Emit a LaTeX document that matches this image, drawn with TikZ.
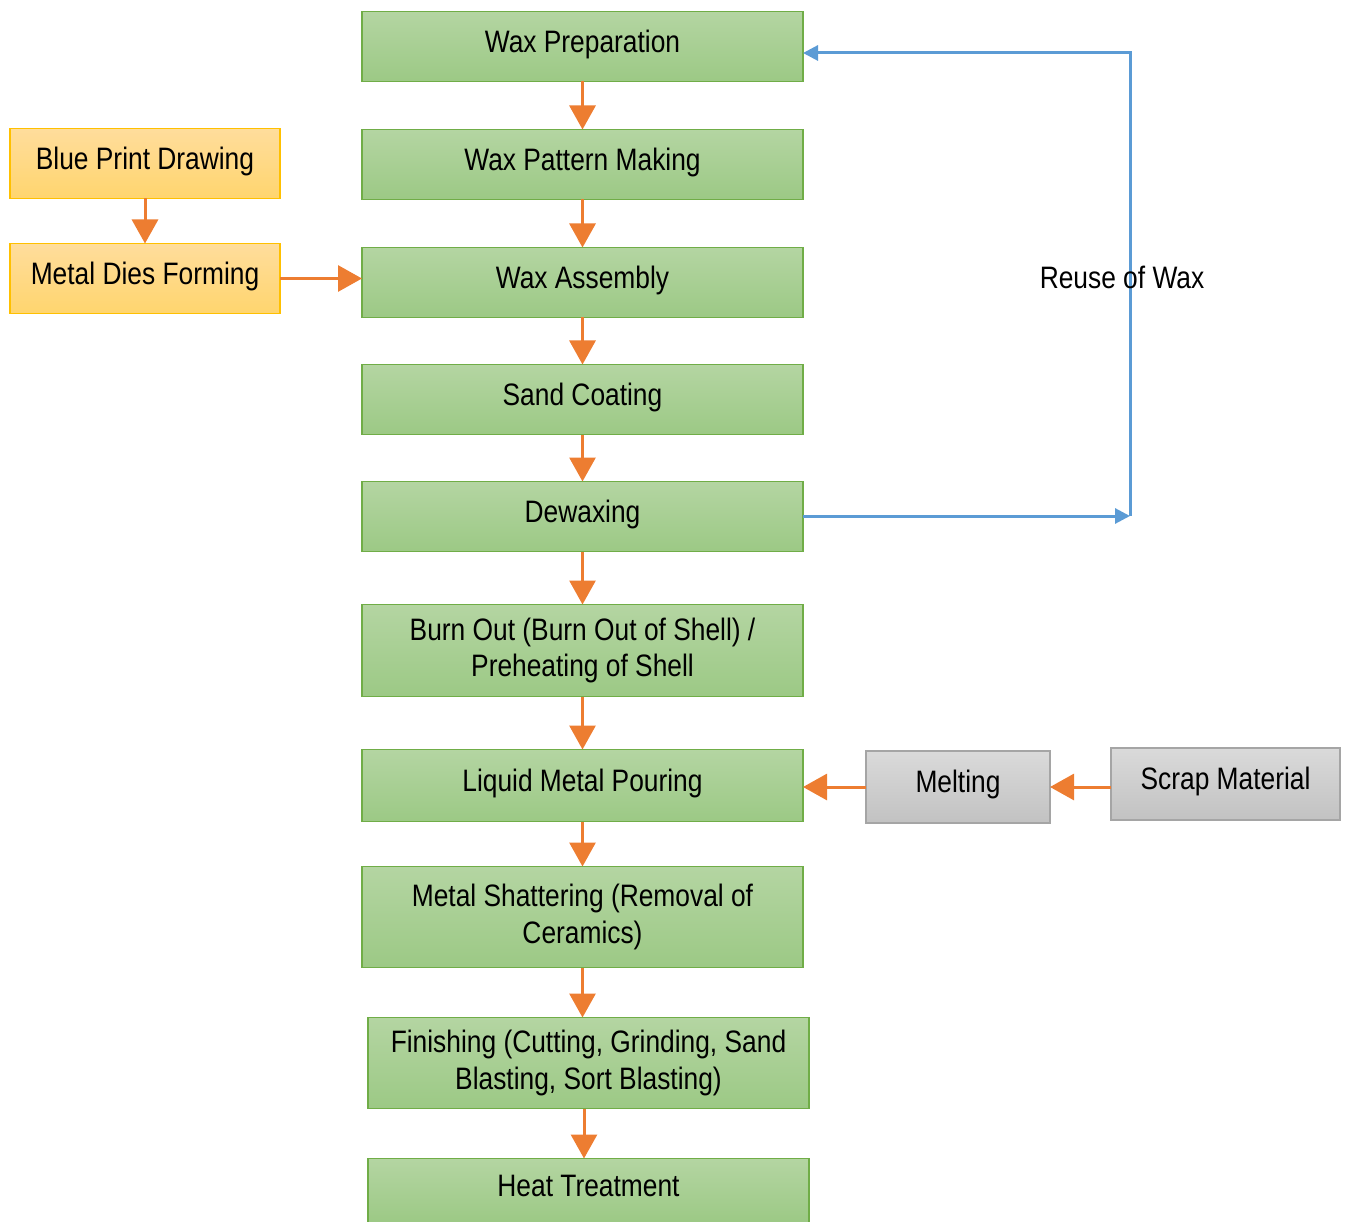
\documentclass[tikz,border=0pt]{standalone}
\usepackage{fontspec}
\setmainfont[FakeStretch=0.85]{Liberation Sans}
\usepackage{tikz}
\usetikzlibrary{arrows.meta, positioning}

\definecolor{stepline}{HTML}{70AD47}
\definecolor{steptop}{HTML}{B4D5A2}
\definecolor{stepbot}{HTML}{9CC985}
\definecolor{dieline}{HTML}{FFC000}
\definecolor{dietop}{HTML}{FFDD9C}
\definecolor{diebot}{HTML}{FFD56E}
\definecolor{scrapline}{HTML}{A5A5A5}
\definecolor{scraptop}{HTML}{DADADA}
\definecolor{scrapbot}{HTML}{C2C2C2}
\definecolor{flow}{HTML}{ED7D31}
\definecolor{reuse}{HTML}{5B9BD5}

\begin{document}
\begin{tikzpicture}[
  x=1pt, y=-1pt,
  font=\fontsize{31}{36.5}\selectfont,
  box/.style={
    rectangle, line width=1.4pt, inner sep=3pt, outer sep=0pt,
    minimum width=441pt, minimum height=70pt, text height=23pt, text depth=11.8pt
  },
  twoline/.style={align=center, text height=, text depth=},
  stepbox/.style={box, draw=stepline, top color=steptop, bottom color=stepbot},
  diebox/.style={box, draw=dieline, top color=dietop, bottom color=diebot,
    minimum width=270pt},
  scrapbox/.style={box, draw=scrapline, top color=scraptop, bottom color=scrapbot,
    minimum height=72pt},
  flowarrow/.style={draw=flow, line width=3pt, -{Triangle[width=26pt, length=24pt]}},
  reusearrow/.style={draw=reuse, line width=3pt, -{Triangle[width=15pt, length=15pt]}}
]
  \useasboundingbox (0,0) rectangle (1346,1222);

  % main column
  \node[stepbox] (wprep) at (582.5,46.5) {Wax Preparation};
  \node[stepbox, below=48pt of wprep] (wpat) {Wax Pattern Making};
  \node[stepbox, below=48pt of wpat] (wass) {Wax Assembly};
  \node[stepbox, below=47pt of wass] (sand) {Sand Coating};
  \node[stepbox, below=47pt of sand] (dewax) {Dewaxing};
  \node[stepbox, twoline, below=53pt of dewax, minimum height=92pt] (burn)
    {Burn Out (Burn Out of Shell) /\\Preheating of Shell};
  \node[stepbox, below=53pt of burn, minimum height=72pt] (pour) {Liquid Metal Pouring};
  \node[stepbox, twoline, below=45pt of pour, minimum height=101pt] (shat)
    {Metal Shattering (Removal of\\Ceramics)};
  \node[stepbox, twoline, below=50pt of shat, xshift=6pt, minimum height=91pt] (fin)
    {Finishing (Cutting, Grinding, Sand\\Blasting, Sort Blasting)};
  \node[stepbox, below=50pt of fin, minimum height=64pt] (heat) {Heat Treatment};

  % dies
  \node[diebox] (blue) at (145,163.5) {Blue Print Drawing};
  \node[diebox, below=45pt of blue] (dies) {Metal Dies Forming};

  % scrap
  \node[scrapbox, minimum width=184pt] (melt) at (958,787) {Melting};
  \node[scrapbox, minimum width=229pt] (scrap) at (1225.5,784) {Scrap Material};

  \draw[flowarrow] (wprep) -- (wpat);
  \draw[flowarrow] (wpat) -- (wass);
  \draw[flowarrow] (wass) -- (sand);
  \draw[flowarrow] (sand) -- (dewax);
  \draw[flowarrow] (dewax) -- (burn);
  \draw[flowarrow] (burn) -- (pour);
  \draw[flowarrow] (pour) -- (shat);
  \draw[flowarrow] (shat.south) -- (shat.south |- fin.north);
  \draw[flowarrow] (fin.south -| 584,0) -- (heat.north -| 584,0);
  \draw[flowarrow] (blue) -- (dies);
  \draw[flowarrow] (dies.east) -- (dies.east -| wass.west);
  \draw[flowarrow] (melt.west) -- (pour.east |- melt.west);
  \draw[flowarrow] (scrap.west |- melt.east) -- (melt.east);

  % wax loop
  \coordinate (loopb) at (1130,516);
  \coordinate (loopt) at (1130,53);
  \draw[reusearrow] (dewax.east |- loopb) -- (loopb);
  \draw[reusearrow] (loopb) -- (loopt) -- (wprep.east |- loopt);
  \node (reuse) at (1122,277) {Reuse of Wax};
\end{tikzpicture}
\end{document}
